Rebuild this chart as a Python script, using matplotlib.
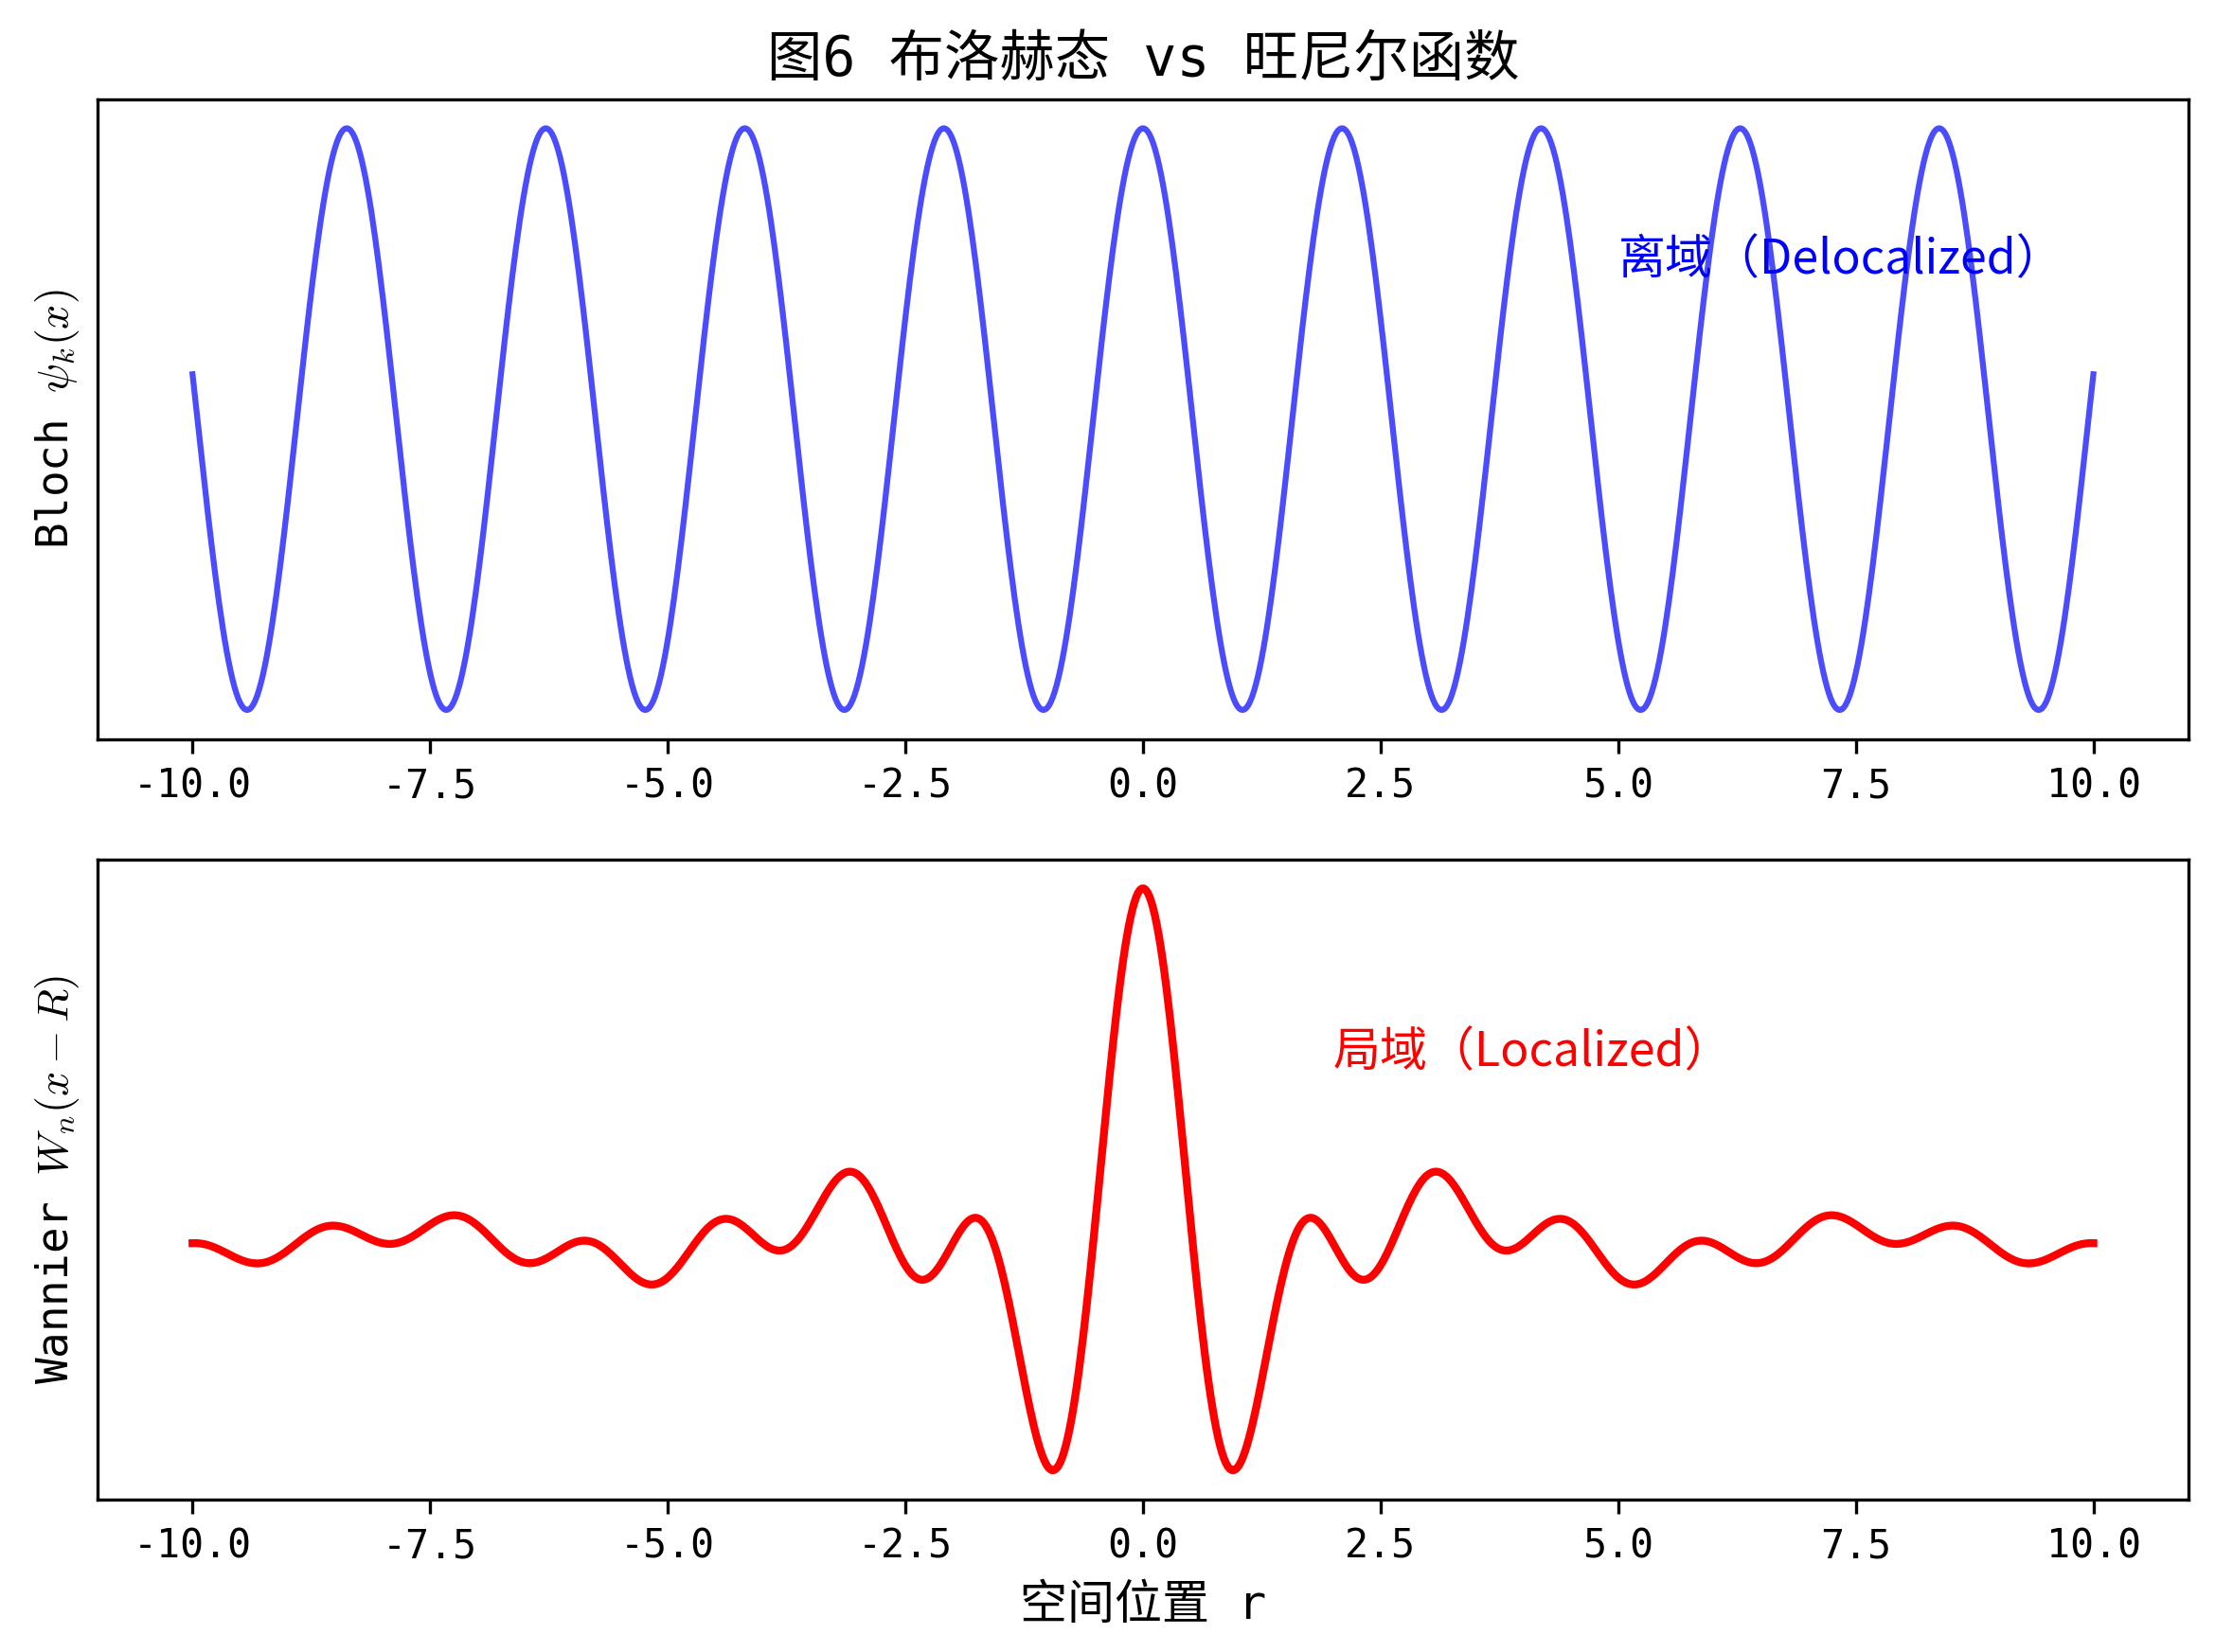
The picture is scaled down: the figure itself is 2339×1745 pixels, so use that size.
import numpy as np
import matplotlib
matplotlib.use("Agg")
import matplotlib.pyplot as plt

# 曲线参数
x_range = [-10.0, 10.0]
n_points = 1000
bloch_k = 3.0          # 布洛赫波数: 峰间距 2π/3
wannier_carrier_k = 3.0
wannier_sinc_width = 2.0   # 包络 sinc(x/2), 零点在 ±2, ±4 ...

x_ticks = [-10.0, -7.5, -5.0, -2.5, 0.0, 2.5, 5.0, 7.5, 10.0]

title_text = "图6 布洛赫态 vs 旺尼尔函数"
bloch_label = r"Bloch $\psi_k(x)$"
wannier_label = r"Wannier $W_n(x-R)$"
xlabel_text = "空间位置 r"
bloch_note = "离域（Delocalized）"
wannier_note = "局域（Localized）"
note_pos_top = (5.0, 0.5)
note_pos_bottom = (2.0, 0.5)

# 等宽拉丁字母 + 中文回退, 近似 SimHei 的效果
plt.rcParams["font.family"] = ["DejaVu Sans Mono", "Noto Sans CJK SC"]
plt.rcParams["axes.unicode_minus"] = False
plt.rcParams["mathtext.fontset"] = "cm"
plt.rcParams["font.size"] = 11
note_font = ["Noto Sans CJK SC", "DejaVu Sans"]

x = np.linspace(x_range[0], x_range[1], n_points)
bloch = np.cos(bloch_k * x)
wannier = np.sinc(x / wannier_sinc_width) * np.cos(wannier_carrier_k * x)

fig, (ax1, ax2) = plt.subplots(2, 1, figsize=(2339 / 300, 1745 / 300), dpi=300)
fig.subplots_adjust(left=0.044, right=0.988, top=0.940, bottom=0.0924, hspace=0.188)

ax1.plot(x, bloch, color="blue", alpha=0.7, linewidth=1.5)
ax1.set_title(title_text, fontsize=14)
ax1.set_ylabel(bloch_label, fontsize=11)
ax1.set_yticks([])
ax1.set_xticks(x_ticks)
ax1.tick_params(axis="x", labelsize=10)
ax1.text(note_pos_top[0], note_pos_top[1], bloch_note, color="blue",
         fontsize=12, family=note_font)

ax2.plot(x, wannier, color="red", linewidth=2)
ax2.set_ylabel(wannier_label, fontsize=11)
ax2.set_xlabel(xlabel_text, fontsize=12)
ax2.set_yticks([])
ax2.set_xticks(x_ticks)
ax2.tick_params(axis="x", labelsize=10)
ax2.text(note_pos_bottom[0], note_pos_bottom[1], wannier_note, color="red",
         fontsize=12, family=note_font)

fig.savefig("out.png", dpi=300)
